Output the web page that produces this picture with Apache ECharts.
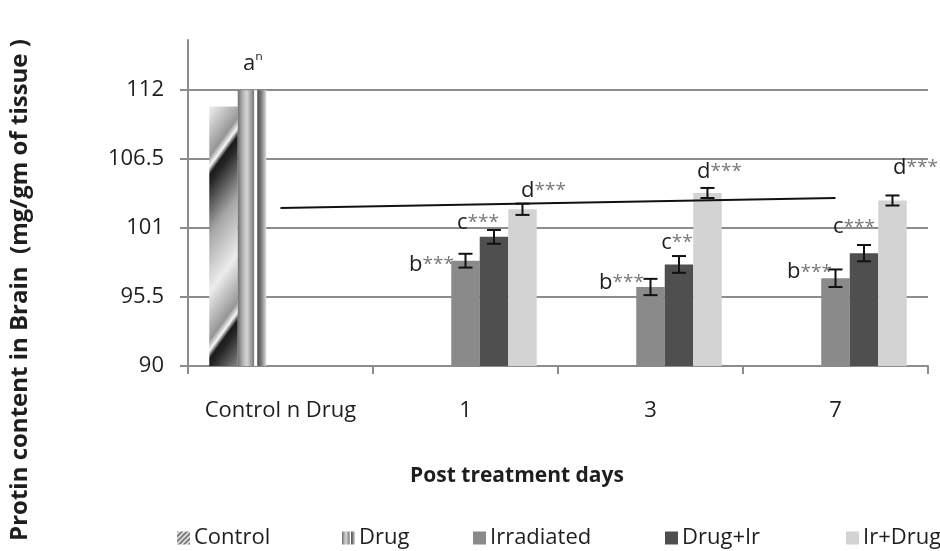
<!DOCTYPE html>
<html>
<head>
<meta charset="utf-8">
<script src="https://cdn.jsdelivr.net/npm/echarts@6/dist/echarts.min.js"></script>
<style>
  html, body { margin: 0; padding: 0; background: #ffffff; }
  #chart { width: 940px; height: 551px; }
</style>
</head>
<body>
<div id="chart"></div>
<script>
// ---- data ----
const categories = ['Control n Drug', '1', '3', '7'];
const yTicks = [90, 95.5, 101, 106.5, 112];

const controlVals    = [110.7, null, null, null];
const drugVals       = [112, null, null, null];
const irradiatedVals = [null, 98.4, 96.3, 97.0];
const drugIrVals     = [null, 100.3, 98.1, 99.0];
const irDrugVals     = [null, 102.5, 103.8, 103.2];

const irradiatedErr = [null, 0.55, 0.65, 0.7];
const drugIrErr     = [null, 0.55, 0.67, 0.65];
const irDrugErr     = [null, 0.45, 0.4, 0.4];

const trendVals = [102.6, null, null, 103.4];

const drugLabels       = ['a\u207f', null, null, null];
const irradiatedLabels = [null, 'b***', 'b***', 'b***'];
const drugIrLabels     = [null, 'c***', 'c**', 'c***'];
const irDrugLabels     = [null, 'd***', 'd***', 'd***'];

// ---- label placement (pixel shift from the bar's top centre) ----
const drugLabelShift       = [[1, -26], null, null, null];
const irradiatedLabelShift = [null, [-34, 4], [-29, -4], [-26, -6]];
const drugIrLabelShift     = [null, [-16, -14], [-2, -22], [-10, -26]];
const irDrugLabelShift     = [null, [21, -19], [12, -21], [23, -33]];

// ---- styling ----
const FONT = 'Open Sans';
const GRID_GRAY = '#8c8c8c';
const SERIES_COUNT = 5;
const CATEGORY_GAP = 0.23;

// diagonal shaded stripes for the Control bar
function makeControlPattern() {
  const W = 134, H = 184, slope = H / W, edge = 93;
  const c = document.createElement('canvas');
  c.width = W; c.height = H;
  const ctx = c.getContext('2d');
  const img = ctx.createImageData(W, H);
  const stops = [[0, 28], [8, 35], [60, 165], [118, 236], [166, 150], [176, 248], [184, 28]];
  function shade(q) {
    for (let i = 1; i < stops.length; i++) {
      if (q <= stops[i][0]) {
        const a = stops[i - 1], b = stops[i];
        const t = (q - a[0]) / (b[0] - a[0]);
        return a[1] + (b[1] - a[1]) * t;
      }
    }
    return stops[stops.length - 1][1];
  }
  for (let y = 0; y < H; y++) {
    for (let x = 0; x < W; x++) {
      const p = ((y + slope * x) % H + H) % H;
      const q = ((p - edge) % H + H) % H;
      const v = Math.round(shade(q));
      const k = (y * W + x) * 4;
      img.data[k] = v; img.data[k + 1] = v; img.data[k + 2] = v; img.data[k + 3] = 255;
    }
  }
  ctx.putImageData(img, 0, 0);
  return c;
}

// small hatch used for the Control legend key
function makeHatchPattern() {
  const c = document.createElement('canvas');
  c.width = 5; c.height = 5;
  const ctx = c.getContext('2d');
  ctx.fillStyle = '#e6e6e6';
  ctx.fillRect(0, 0, 5, 5);
  ctx.strokeStyle = '#6a6a6a';
  ctx.lineWidth = 1.6;
  ctx.beginPath();
  ctx.moveTo(-1, 6); ctx.lineTo(6, -1);
  ctx.moveTo(-1, 1); ctx.lineTo(1, -1);
  ctx.moveTo(4, 6); ctx.lineTo(6, 4);
  ctx.stroke();
  return c;
}

const controlColor = { image: makeControlPattern(), repeat: 'repeat' };
const controlKeyColor = { image: makeHatchPattern(), repeat: 'repeat' };
const drugColor = {
  type: 'linear', x: 0, y: 0, x2: 1, y2: 0,
  colorStops: [
    { offset: 0.00, color: '#6e6e6e' },
    { offset: 0.18, color: '#b4b4b4' },
    { offset: 0.32, color: '#d6d6d6' },
    { offset: 0.48, color: '#9a9a9a' },
    { offset: 0.57, color: '#777777' },
    { offset: 0.59, color: '#ffffff' },
    { offset: 0.67, color: '#ffffff' },
    { offset: 0.70, color: '#555555' },
    { offset: 0.82, color: '#7a7a7a' },
    { offset: 0.92, color: '#b0b0b0' },
    { offset: 1.00, color: '#dcdcdc' }
  ]
};
const irradiatedColor = '#8a8a8a';
const drugIrColor = '#4f4f4f';
const irDrugColor = '#d3d3d3';

const labelRich = {
  l: { fontFamily: FONT, fontSize: 22, color: '#1e1e1e' },
  s: { fontFamily: FONT, fontSize: 19, color: '#7a7a7a' },
  n: { fontFamily: 'DejaVu Sans', fontSize: 19, color: '#2a2a2a', padding: [0, 0, 6, 0] }
};

function labelText(str) {
  const head = str.charAt(0), rest = str.slice(1);
  if (!rest) return '{l|' + head + '}';
  return '{l|' + head + '}' + (rest.indexOf('*') >= 0 ? '{s|' + rest + '}' : '{n|' + rest + '}');
}

function barData(vals, labels, shifts) {
  return vals.map(function (v, i) {
    if (v == null) return null;
    const item = { value: v };
    if (labels && labels[i]) {
      item.label = {
        show: true,
        position: ['50%', 0],
        offset: shifts[i],
        align: 'center',
        verticalAlign: 'middle',
        formatter: labelText(labels[i]),
        rich: labelRich
      };
    }
    return item;
  });
}

function barSeries(name, color, vals, labels, shifts) {
  return {
    name: name,
    type: 'bar',
    barGap: '0%',
    barCategoryGap: (CATEGORY_GAP * 100) + '%',
    itemStyle: { color: color },
    z: 2,
    data: barData(vals, labels, shifts)
  };
}

function errorData(vals, errs, slot) {
  const out = [];
  vals.forEach(function (v, i) {
    if (v != null && errs[i] != null) out.push([i, v, errs[i], slot]);
  });
  return out;
}

function renderErrorBar(params, api) {
  const cat = api.value(0), v = api.value(1), e = api.value(2), slot = api.value(3);
  const band = api.size([1, 0])[0];
  const bw = band * (1 - CATEGORY_GAP) / SERIES_COUNT;
  const cx = api.coord([cat, v])[0] + (slot - (SERIES_COUNT - 1) / 2) * bw;
  const yTop = api.coord([cat, v + e])[1];
  const yBot = api.coord([cat, v - e])[1];
  const cap = 7;
  const style = { stroke: '#111111', lineWidth: 2 };
  return {
    type: 'group',
    children: [
      { type: 'line', shape: { x1: cx, y1: yTop, x2: cx, y2: yBot }, style: style },
      { type: 'line', shape: { x1: cx - cap, y1: yTop, x2: cx + cap, y2: yTop }, style: style },
      { type: 'line', shape: { x1: cx - cap, y1: yBot, x2: cx + cap, y2: yBot }, style: style }
    ]
  };
}

const errorRows = []
  .concat(errorData(irradiatedVals, irradiatedErr, 2))
  .concat(errorData(drugIrVals, drugIrErr, 3))
  .concat(errorData(irDrugVals, irDrugErr, 4));

const legendSpots = [
  ['Control', 177],
  ['Drug', 342],
  ['Irradiated', 473],
  ['Drug+Ir', 665],
  ['Ir+Drug', 846]
];

const chart = echarts.init(document.getElementById('chart'), null, { renderer: 'canvas' });

chart.setOption({
  animation: false,
  backgroundColor: '#ffffff',
  textStyle: { fontFamily: FONT },
  grid: { left: 188, right: 12, top: 40, bottom: 185, containLabel: false },
  legend: legendSpots.map(function (s) {
    const entry = { name: s[0] };
    if (s[0] === 'Control') entry.itemStyle = { color: controlKeyColor };
    return {
      data: [entry],
      left: s[1],
      top: 527,
      padding: 0,
      itemWidth: 13,
      itemHeight: 13,
      icon: 'rect',
      selectedMode: false,
      textStyle: { fontFamily: FONT, fontSize: 22, color: '#1e1e1e', padding: [0, 0, 0, -1] }
    };
  }),
  xAxis: {
    type: 'category',
    data: categories,
    axisLine: { show: true, lineStyle: { color: GRID_GRAY, width: 2 } },
    axisTick: { show: true, length: 8, lineStyle: { color: GRID_GRAY, width: 2 } },
    axisLabel: { interval: 0, fontFamily: FONT, fontSize: 22, color: '#1e1e1e', margin: 34 },
    splitLine: { show: false }
  },
  yAxis: {
    type: 'value',
    min: 90,
    max: 116,
    interval: 5.5,
    axisLine: { show: true, lineStyle: { color: GRID_GRAY, width: 2 } },
    axisTick: { show: true, length: 8, lineStyle: { color: GRID_GRAY, width: 2 }, customValues: yTicks },
    axisLabel: { fontFamily: FONT, fontSize: 22, color: '#1e1e1e', margin: 24, customValues: yTicks },
    splitLine: { show: true, lineStyle: { color: GRID_GRAY, width: 2 } }
  },
  graphic: [
    {
      type: 'text',
      x: 20,
      y: 290,
      rotation: Math.PI / 2,
      style: {
        text: 'Protin content in Brain  (mg/gm of tissue )',
        fill: '#1e1e1e',
        font: 'bold 24px "Open Sans"',
        align: 'center',
        verticalAlign: 'middle'
      }
    },
    {
      type: 'text',
      x: 517,
      y: 476,
      style: {
        text: 'Post treatment days',
        fill: '#1e1e1e',
        font: 'bold 21px "Open Sans"',
        align: 'center',
        verticalAlign: 'middle'
      }
    }
  ],
  series: [
    barSeries('Control', controlColor, controlVals, null, null),
    barSeries('Drug', drugColor, drugVals, drugLabels, drugLabelShift),
    barSeries('Irradiated', irradiatedColor, irradiatedVals, irradiatedLabels, irradiatedLabelShift),
    barSeries('Drug+Ir', drugIrColor, drugIrVals, drugIrLabels, drugIrLabelShift),
    barSeries('Ir+Drug', irDrugColor, irDrugVals, irDrugLabels, irDrugLabelShift),
    {
      name: 'trend',
      type: 'line',
      data: trendVals,
      connectNulls: true,
      symbol: 'none',
      lineStyle: { color: '#111111', width: 2 },
      z: 3
    },
    {
      name: 'error',
      type: 'custom',
      renderItem: renderErrorBar,
      data: errorRows,
      encode: { x: 0, y: 1 },
      z: 4
    }
  ]
});
</script>
</body>
</html>
